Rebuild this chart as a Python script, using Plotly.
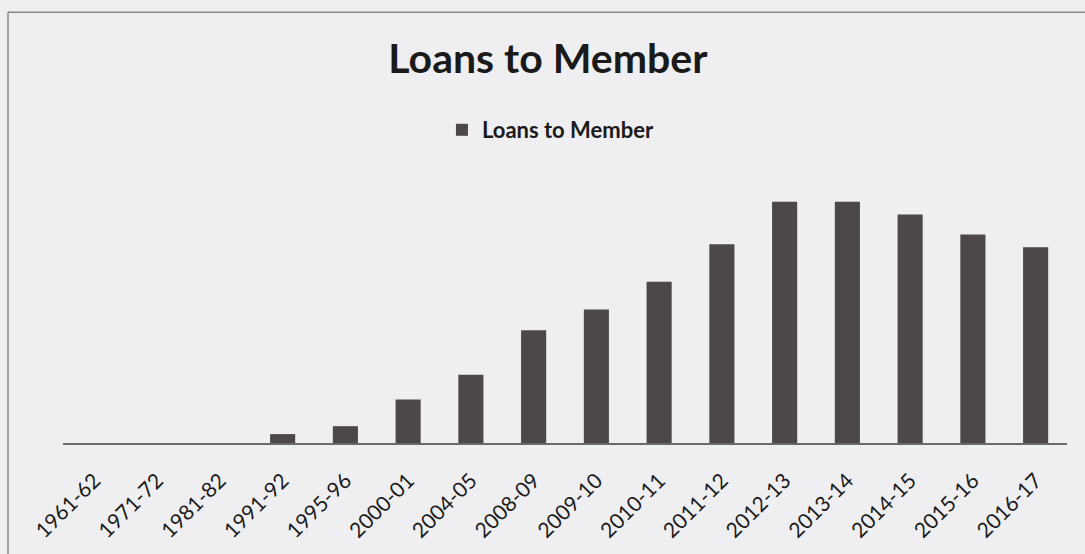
import plotly.graph_objects as go

categories = ["1961-62", "1971-72", "1981-82", "1991-92", "1995-96", "2000-01",
              "2004-05", "2008-09", "2009-10", "2010-11", "2011-12", "2012-13",
              "2013-14", "2014-15", "2015-16", "2016-17"]
loans_to_member = [0, 0, 0, 9, 17, 44, 69, 114, 135, 163, 201, 244, 244, 231, 211, 198]

bar_color = "#4d4749"
text_color = "#1a1a1a"
paper = "#efeff1"

fig = go.Figure()
fig.add_trace(go.Bar(
    x=categories, y=loans_to_member, name="<b>Loans to Member</b>",
    marker=dict(color=bar_color, line=dict(width=0)),
    showlegend=True,
))

fig.update_layout(
    width=1085, height=554,
    margin=dict(l=63, r=18, t=180, b=109),
    paper_bgcolor=paper, plot_bgcolor=paper,
    bargap=0.6,
    font=dict(family="Lato", color=text_color),
    title=dict(text="<b>Loans to Member</b>", x=0.505, xanchor="center",
               y=1 - 59 / 554, yanchor="middle",
               font=dict(family="Lato", size=41, color=text_color)),
    legend=dict(orientation="h", x=0.486, xanchor="center", y=1 - 130 / 554,
                yanchor="middle", yref="container",
                font=dict(family="Lato", size=22, color=text_color),
                itemwidth=30, bgcolor="rgba(0,0,0,0)"),
    xaxis=dict(type="category", tickangle=-45, showgrid=False, showline=True,
               linecolor="#6a6a6a", linewidth=2, ticks="",
               tickfont=dict(family="Lato", size=21, color=text_color),
               ticklabelstandoff=15),
    yaxis=dict(visible=False, range=[0, 266]),
    shapes=[
        dict(type="line", xref="paper", yref="paper", x0=-55 / 1004, x1=1.2,
             y0=1 + 169 / 265, y1=1 + 169 / 265, line=dict(color="#8a8a8a", width=1.5)),
        dict(type="line", xref="paper", yref="paper", x0=-55 / 1004, x1=-55 / 1004,
             y0=-0.5, y1=1 + 169 / 265, line=dict(color="#8a8a8a", width=1.5)),
    ],
)

fig.write_html("out.html")
